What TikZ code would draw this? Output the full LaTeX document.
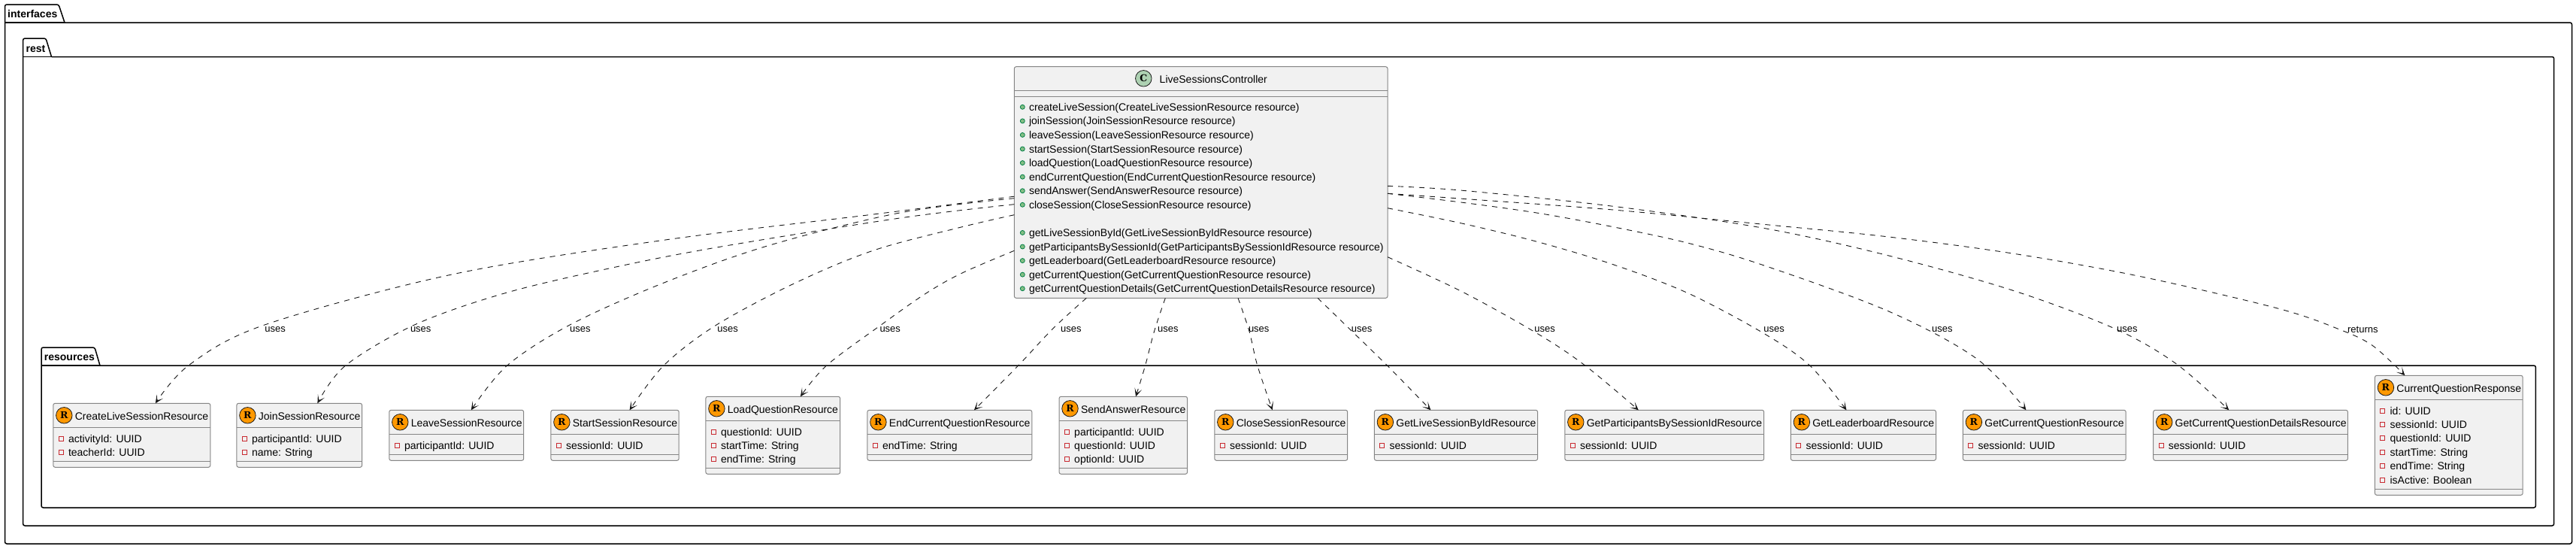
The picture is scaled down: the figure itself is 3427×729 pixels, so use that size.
\documentclass[tikz,border=0pt]{standalone}
\usepackage{fontspec}
\setmainfont{Liberation Sans}
\newfontfamily\letterfont{DejaVu Serif}
\usetikzlibrary{arrows.meta,calc}
\definecolor{boxfill}{HTML}{F1F1F1}
\definecolor{boxline}{HTML}{858585}
\definecolor{ink}{HTML}{181818}
\definecolor{rorange}{HTML}{FF9800}
\definecolor{cgreen}{HTML}{ADD1B2}
\definecolor{privred}{HTML}{C82930}
\definecolor{pubfill}{HTML}{84BE84}
\definecolor{publine}{HTML}{038048}
\tikzset{
  txt/.style={font=\fontsize{14}{16}\selectfont,text=black,inner sep=0pt,outer sep=0pt},
  pkglabel/.style={font=\fontsize{14}{16}\selectfont\bfseries,text=black,inner sep=0pt,anchor=base west},
  lbl/.style={font=\fontsize{13}{15}\selectfont,text=black,inner sep=0pt,anchor=west},
  pkg/.style={draw=black,line width=1.5pt,rounded corners=2.5pt},
  pkgline/.style={draw=black,line width=1.5pt},
  cbox/.style={draw=boxline,line width=1pt,fill=boxfill,rounded corners=2.5pt,inner sep=0pt,outer sep=0pt,anchor=north west},
  sepline/.style={draw=boxline,line width=1pt},
  ricon/.style={circle,draw=ink,line width=.8pt,fill=rorange,minimum size=21.5pt,inner sep=0pt,font=\fontsize{12.5}{14}\selectfont\letterfont\bfseries,text=black},
  cicon/.style={circle,draw=ink,line width=.8pt,fill=cgreen,minimum size=21.5pt,inner sep=0pt,font=\fontsize{12.5}{14}\selectfont\letterfont\bfseries,text=black},
  privmark/.style={rectangle,draw=privred,line width=1pt,minimum size=6pt,inner sep=0pt},
  pubmark/.style={circle,draw=publine,line width=.8pt,fill=pubfill,minimum size=6pt,inner sep=0pt},
  dep/.style={draw=ink,line width=.9pt,dash pattern=on 7pt off 7pt,-{Stealth[length=11pt,width=10pt,inset=6.5pt,color=ink]}},
  smoothed/.style={smooth,tension=.55},
}
% name, left, right, top, attr height, title, attrs
\newcommand{\resbox}[7]{%
  \pgfmathsetmacro{\bw}{#3-#2}
  \pgfmathsetmacro{\bh}{32+#5+8}
  \node[cbox,minimum width=\bw pt,minimum height=\bh pt] (#1) at (#2,#4) {};
  \draw[sepline] ($(#1.north west)+(0,32)$) -- ($(#1.north east)+(0,32)$);
  \draw[sepline] ($(#1.north west)+(0,32+#5)$) -- ($(#1.north east)+(0,32+#5)$);
  \node[ricon] (#1i) at ($(#1.north west)+(14.5,16)$) {R};
  \node[txt,anchor=base west] (#1t) at ($(#1.north west)+(29,22)$) {#6};
  \foreach \tx [count=\n from 0] in {#7} {
    \pgfmathsetmacro{\ry}{32+14.8+18.4*\n}
    \node[privmark] (#1m\n) at ($(#1.north west)+(10.5,\ry)$) {};
    \node[txt,anchor=base west] (#1a\n) at ($(#1.north west)+(20.2,\ry+5)$) {\tx};
  }
}
\begin{document}
\begin{tikzpicture}[x=1pt,y=-1pt]
\useasboundingbox[fill=white] (0,0) rectangle (3427,729);
% packages
\draw[pkg] (86,30) -- (3421.5,30) -- (3421.5,723) -- (6.5,723) -- (6.5,6) -- (78,6) -- (86,30);
\draw[pkgline] (6.5,30) -- (86,30);
\node[pkglabel] (pi) at (10,23) {interfaces};
\draw[pkg] (68.5,75.5) -- (3397.7,75.5) -- (3397.7,699) -- (30.6,699) -- (30.6,51) -- (61,51) -- (68.5,75.5);
\draw[pkgline] (30.6,75.5) -- (68.5,75.5);
\node[pkglabel] (pr) at (34.5,69) {rest};
\draw[pkg] (133,486) -- (3373.4,486) -- (3373.4,675) -- (55,675) -- (55,462) -- (126,462) -- (133,486);
\draw[pkgline] (55,486) -- (133,486);
\node[pkglabel] (pk) at (58.7,479.5) {resources};
% controller
\node[cbox,minimum width=496.7pt,minimum height=307.6pt] (ctrl) at (1349.3,88.7) {};
\draw[sepline] ($(ctrl.north west)+(0,31.6)$) -- ($(ctrl.north east)+(0,31.6)$);
\draw[sepline] ($(ctrl.north west)+(0,39.6)$) -- ($(ctrl.north east)+(0,39.6)$);
\node[cicon] (ctrli) at (1521.3,104.3) {C};
\node[txt,anchor=base west] (ctrlt) at (1542.7,110) {LiveSessionsController};
\foreach \tx/\r in {createLiveSession(CreateLiveSessionResource resource)/0,
 joinSession(JoinSessionResource resource)/1,
 leaveSession(LeaveSessionResource resource)/2,
 startSession(StartSessionResource resource)/3,
 loadQuestion(LoadQuestionResource resource)/4,
 endCurrentQuestion(EndCurrentQuestionResource resource)/5,
 sendAnswer(SendAnswerResource resource)/6,
 closeSession(CloseSessionResource resource)/7,
 getLiveSessionById(GetLiveSessionByIdResource resource)/9,
 getParticipantsBySessionId(GetParticipantsBySessionIdResource resource)/10,
 getLeaderboard(GetLeaderboardResource resource)/11,
 getCurrentQuestion(GetCurrentQuestionResource resource)/12,
 getCurrentQuestionDetails(GetCurrentQuestionDetailsResource resource)/13} {
  \pgfmathsetmacro{\ry}{142.3+18.57*\r}
  \node[pubmark] (mm\r) at (1360.3,\ry) {};
  \node[txt,anchor=base west] (mt\r) at (1369,\ry+5) {\tx};
}
% resources
\resbox{cr1}{70.8}{279.8}{536.3}{45}{CreateLiveSessionResource}{activityId: UUID,teacherId: UUID}
\resbox{cr2}{314.9}{481.6}{536.3}{45}{JoinSessionResource}{participantId: UUID,name: String}
\resbox{cr3}{517.8}{696.7}{545.3}{27}{LeaveSessionResource}{participantId: UUID}
\resbox{cr4}{732.9}{903.2}{545.3}{27}{StartSessionResource}{sessionId: UUID}
\resbox{cr5}{938.9}{1117.7}{527.3}{63}{LoadQuestionResource}{questionId: UUID,startTime: String,endTime: String}
\resbox{cr6}{1153.9}{1372.8}{545.3}{27}{EndCurrentQuestionResource}{endTime: String}
\resbox{cr7}{1409}{1579.6}{527.3}{63}{SendAnswerResource}{participantId: UUID,questionId: UUID,optionId: UUID}
\resbox{cr8}{1615.8}{1792.7}{545.3}{27}{CloseSessionResource}{sessionId: UUID}
\resbox{cr9}{1828.4}{2045.6}{545.3}{27}{GetLiveSessionByIdResource}{sessionId: UUID}
\resbox{cr10}{2081.8}{2346.7}{545.3}{27}{GetParticipantsBySessionIdResource}{sessionId: UUID}
\resbox{cr11}{2382.4}{2575.5}{545.3}{27}{GetLeaderboardResource}{sessionId: UUID}
\resbox{cr12}{2611.4}{2828.2}{545.3}{27}{GetCurrentQuestionResource}{sessionId: UUID}
\resbox{cr13}{2864.7}{3123.4}{545.3}{27}{GetCurrentQuestionDetailsResource}{sessionId: UUID}
\resbox{cr14}{3159.4}{3356.2}{499.3}{119}{CurrentQuestionResponse}{id: UUID,sessionId: UUID,questionId: UUID,startTime: String,endTime: String,isActive: Boolean}
% connector ends
\coordinate (s1) at ($(ctrl.north west)+(0,172.5)$);
\coordinate (s2) at ($(ctrl.north west)+(0,183)$);
\coordinate (s3) at ($(ctrl.north west)+(0,175)$);
\coordinate (s4) at ($(ctrl.north west)+(0,197)$);
\coordinate (s5) at ($(ctrl.north west)+(0,244.6)$);
\coordinate (s6) at ($(ctrl.south west)+(96,0)$);
\coordinate (s7) at ($(ctrl.south west)+(201,0)$);
\coordinate (s8) at ($(ctrl.south west)+(297.7,0)$);
\coordinate (s9) at ($(ctrl.south west)+(403.7,0)$);
\coordinate (s10) at ($(ctrl.north east)+(0,253)$);
\coordinate (s11) at ($(ctrl.north east)+(0,188)$);
\coordinate (s12) at ($(ctrl.north east)+(0,168.6)$);
\coordinate (s13) at ($(ctrl.north east)+(0,158.6)$);
\coordinate (s14) at ($(ctrl.north east)+(0,168.6)$);
\coordinate (t1) at ($(cr1.north west)+(136,0)$);
\coordinate (t2) at ($(cr2.north west)+(107.5,0)$);
\coordinate (t3) at ($(cr3.north west)+(109,0)$);
\coordinate (t4) at ($(cr4.north west)+(104.7,0)$);
\coordinate (t5) at ($(cr5.north west)+(126,0)$);
\coordinate (t6) at ($(cr6.north west)+(142,0)$);
\coordinate (t7) at ($(cr7.north west)+(102,0)$);
\coordinate (t8) at ($(cr8.north west)+(77,0)$);
\coordinate (t9) at ($(cr9.north west)+(75,0)$);
\coordinate (t10) at ($(cr10.north west)+(98,0)$);
\coordinate (t11) at ($(cr11.north west)+(74,0)$);
\coordinate (t12) at ($(cr12.north west)+(84,0)$);
\coordinate (t13) at ($(cr13.north west)+(100.6,0)$);
\coordinate (t14) at ($(cr14.north west)+(40,0)$);
% connectors
\draw[dep] plot[smoothed] coordinates {(s1) (1162,285) (881.5,319.5) (601,365) (352,432) (252,485) (t1)};
\draw[dep] plot[smoothed] coordinates {(s2) (1197,290) (951.6,329.3) (811.4,356.7) (671,390) (552,431.7) (459.7,486) (t2)};
\draw[dep] plot[smoothed] coordinates {(s3) (1197,283) (1021.8,326.7) (881.5,376.7) (758.7,431.7) (674.7,486) (t3)};
\draw[dep] plot[smoothed] coordinates {(s4) (1280,301.7) (1162,333) (1057,376.7) (951.6,433) (883,486) (t4)};
\draw[dep] plot[smoothed] coordinates {(s5) (1280,363) (1232,390) (1172.6,431.7) (1099.6,486) (t5)};
\draw[dep] plot[smoothed] coordinates {(s6) (1401,436.7) (1354.7,486) (t6)};
\draw[dep] plot[smoothed] coordinates {(s7) (1535.7,440) (1523.6,486) (t7)};
\draw[dep] plot[smoothed] coordinates {(s8) (1661.8,440) (1672.8,486) (t8)};
\draw[dep] plot[smoothed] coordinates {(s9) (1796,438) (1845.4,486) (t9)};
\draw[dep] plot[smoothed] coordinates {(s10) (1946,388.3) (2046,444) (2108.7,486) (t10)};
\draw[dep] plot[smoothed] coordinates {(s11) (1946,297.3) (2046,321.7) (2146,351.7) (2246,390) (2346,443) (2407.6,486) (t11)};
\draw[dep] plot[smoothed] coordinates {(s12) (1946,269.3) (2046,283.3) (2146,301.7) (2246,323.3) (2346,352.7) (2512.7,414) (2629.3,476.7) (t12)};
\draw[dep] plot[smoothed] coordinates {(s13) (1946,253.3) (2146,274.3) (2346,303.3) (2512.7,340) (2679.3,386.7) (2812.7,436.7) (2894.5,483.3) (t13)};
\draw[dep] plot[smoothed] coordinates {(s14) (1946,264.3) (2146,279) (2346,298.3) (2512.7,315) (2679.3,337.3) (2846,367.3) (3030,410) (3113,438.3) (3157,460) (t14)};
% labels
\node[lbl] (u1) at (352.2,438) {uses};
\node[lbl] (u2) at (545.8,438) {uses};
\node[lbl] (u3) at (758,438) {uses};
\node[lbl] (u4) at (954.2,438) {uses};
\node[lbl] (u5) at (1170.3,438) {uses};
\node[lbl] (u6) at (1411,438) {uses};
\node[lbl] (u7) at (1540,438) {uses};
\node[lbl] (u8) at (1660.8,438) {uses};
\node[lbl] (u9) at (1797.6,438) {uses};
\node[lbl] (u10) at (2041.2,438) {uses};
\node[lbl] (u11) at (2346.2,438) {uses};
\node[lbl] (u12) at (2570,438) {uses};
\node[lbl] (u13) at (2816,438) {uses};
\node[lbl] (u14) at (3122.9,438) {returns};
\end{tikzpicture}
\end{document}
